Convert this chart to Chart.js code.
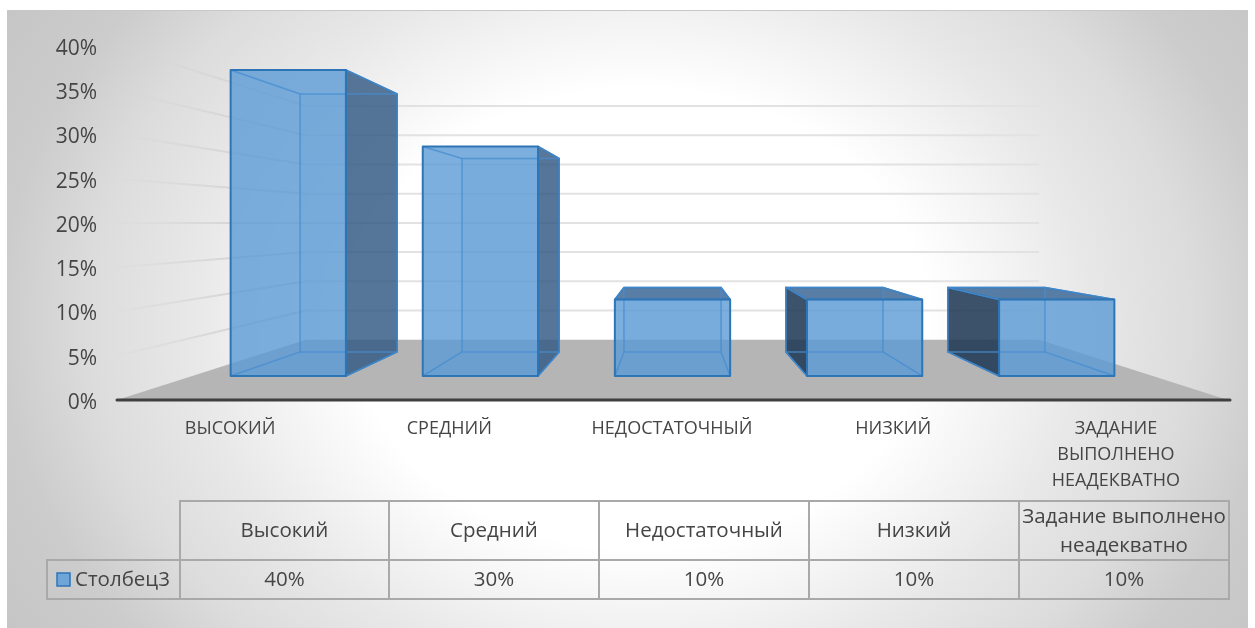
<!DOCTYPE html>
<html>
<head>
<meta charset="utf-8">
<style>
  html, body { margin: 0; padding: 0; background: #fff; }
  #wrap { width: 1255px; height: 628px; }
</style>
<script src="https://cdn.jsdelivr.net/npm/chart.js@4"></script>
</head>
<body>
<div id="wrap"><canvas id="myChart" width="1255" height="628"></canvas></div>
<script>
const axisCategories = ['ВЫСОКИЙ', 'СРЕДНИЙ', 'НЕДОСТАТОЧНЫЙ', 'НИЗКИЙ', ['ЗАДАНИЕ', 'ВЫПОЛНЕНО', 'НЕАДЕКВАТНО']];
const tableCategories = ['Высокий', 'Средний', 'Недостаточный', 'Низкий', ['Задание выполнено', 'неадекватно']];
const seriesName = 'Столбец3';
const seriesValues = [40, 30, 10, 10, 10];

const font = '"Open Sans", sans-serif';
const textColor = '#454545';

// perspective of the 3d box: everything shrinks towards this point
const vanishX = 672.5, vanishY = 222.7;
const backScale = 0.66, barFront = 0.8646, barBack = 0.7287;

function project(x, y, s) {
    return [vanishX + (x - vanishX) * s, vanishY + (y - vanishY) * s];
}

function poly(ctx, pts, fill, stroke, lw) {
    ctx.beginPath();
    pts.forEach((p, i) => i ? ctx.lineTo(p[0], p[1]) : ctx.moveTo(p[0], p[1]));
    ctx.closePath();
    if (fill) { ctx.fillStyle = fill; ctx.fill(); }
    if (stroke) { ctx.strokeStyle = stroke; ctx.lineWidth = lw; ctx.lineJoin = 'round'; ctx.stroke(); }
}

function line(ctx, a, b, color, lw) {
    ctx.beginPath();
    ctx.moveTo(a[0], a[1]);
    ctx.lineTo(b[0], b[1]);
    ctx.strokeStyle = color;
    ctx.lineWidth = lw;
    ctx.stroke();
}

const backdrop = {
    id: 'backdrop',
    beforeDraw(chart) {
        const ctx = chart.ctx;
        const { left, right, bottom } = chart.chartArea;
        const y = chart.scales.y, x = chart.scales.x;
        ctx.save();
        ctx.fillStyle = '#fff';
        ctx.fillRect(0, 0, 1255, 628);
        // soft radial fill of the chart area
        ctx.save();
        ctx.beginPath();
        ctx.rect(7, 10, 1241, 618);
        ctx.clip();
        ctx.translate(640, 319);
        ctx.scale(1, 0.8);
        const g = ctx.createRadialGradient(0, 0, 0, 0, 0, 800);
        g.addColorStop(0, '#ffffff');
        g.addColorStop(0.36, '#ffffff');
        g.addColorStop(0.475, '#f2f2f2');
        g.addColorStop(0.56, '#e8e8e8');
        g.addColorStop(0.69, '#dcdcdc');
        g.addColorStop(0.8, '#cccccc');
        g.addColorStop(1, '#c2c2c2');
        ctx.fillStyle = g;
        ctx.fillRect(-900, -900, 1800, 1800);
        ctx.restore();
        line(ctx, [7, 10.5], [1248, 10.5], '#c8c8c8', 1);

        // floor
        poly(ctx, [project(left, bottom, 1), project(right, bottom, 1),
            project(right, bottom, backScale), project(left, bottom, backScale)], '#b5b5b5');

        // side wall and back wall grid lines
        y.ticks.forEach(t => {
            if (t.value === 0) return;
            const py = y.getPixelForValue(t.value);
            const a = project(left, py, backScale), b = project(right, py, backScale);
            const fade = ctx.createLinearGradient(left, 0, a[0], 0);
            fade.addColorStop(0, 'rgba(214,214,214,0.15)');
            fade.addColorStop(0.6, 'rgba(214,214,214,1)');
            line(ctx, [left, py], a, fade, 2);
            line(ctx, a, b, '#e2e2e2', 2);
        });

        // axis line
        ctx.lineCap = 'round';
        line(ctx, [left, bottom], [right + 2, bottom], '#3f3f3f', 3);
        ctx.restore();

        // the original labels do not sit exactly on the category centres
        const shifts = [2, -1, -0.5, -1.5, -1];
        x.getLabelItems().forEach((item, i) => { item.options.translation[0] += shifts[i]; });
        y.getLabelItems().forEach(item => { item.options.translation[1] += 3; });
    }
};

const boxes = {
    id: 'boxes',
    afterDatasetsDraw(chart) {
        const ctx = chart.ctx;
        const base = chart.scales.y.getPixelForValue(0);
        ctx.save();
        chart.getDatasetMeta(0).data.forEach(bar => {
            const { x, y, width } = bar.getProps(['x', 'y', 'width'], true);
            const l = x - width / 2, r = x + width / 2;
            const fTL = project(l, y, barFront), fTR = project(r, y, barFront);
            const fBL = project(l, base, barFront), fBR = project(r, base, barFront);
            const bTL = project(l, y, barBack), bTR = project(r, y, barBack);
            const bBL = project(l, base, barBack), bBR = project(r, base, barBack);
            const inner = 'rgba(91,155,213,0.14)';
            const edge = '#2e75b6', edgeSoft = 'rgba(70,140,208,0.75)';

            // back, floor
            poly(ctx, [bTL, bTR, bBR, bBL], inner);
            poly(ctx, [fBL, fBR, bBR, bBL], inner);
            // outer side faces only show when the box is off centre
            if (bTR[0] > fTR[0]) poly(ctx, [fTR, bTR, bBR, fBR], 'rgba(52,90,130,0.82)', edge, 1.5);
            if (bTL[0] < fTL[0]) poly(ctx, [fTL, bTL, bBL, fBL], 'rgba(28,52,80,0.84)', edge, 1.5);
            // top face only shows when it lies above the eye line
            if (bTL[1] < fTL[1]) poly(ctx, [fTL, fTR, bTR, bTL], 'rgba(60,104,150,0.84)', edge, 1.5);
            // front
            poly(ctx, [fTL, fTR, fBR, fBL], 'rgba(91,155,213,0.8)');
            // lines of the far side seen through the front
            poly(ctx, [bTL, bTR, bBR, bBL], null, edgeSoft, 1.5);
            line(ctx, fBL, bBL, edgeSoft, 1.5);
            line(ctx, fBR, bBR, edgeSoft, 1.5);
            line(ctx, fTL, bTL, edgeSoft, 1.5);
            line(ctx, fTR, bTR, edgeSoft, 1.5);
            poly(ctx, [fTL, fTR, fBR, fBL], null, edge, 2);
        });
        ctx.restore();
    }
};

const dataTable = {
    id: 'dataTable',
    afterDraw(chart) {
        const ctx = chart.ctx;
        const colX = [180, 389, 599, 809, 1019, 1229];
        const rowTop = 501, rowMid = 560, rowBottom = 599, legendLeft = 47;
        ctx.save();
        ctx.lineCap = 'square';
        const c = '#a9a9a9';
        line(ctx, [colX[0], rowTop], [colX[5], rowTop], c, 2);
        line(ctx, [legendLeft, rowMid], [colX[5], rowMid], c, 2);
        line(ctx, [legendLeft, rowBottom], [colX[5], rowBottom], c, 2);
        line(ctx, [legendLeft, rowMid], [legendLeft, rowBottom], c, 2);
        colX.forEach(x => line(ctx, [x, rowTop], [x, rowBottom], c, 2));

        ctx.font = '20.5px ' + font;
        ctx.fillStyle = textColor;
        ctx.textAlign = 'center';
        ctx.textBaseline = 'middle';
        tableCategories.forEach((cat, i) => {
            const cx = (colX[i] + colX[i + 1]) / 2;
            if (Array.isArray(cat)) {
                ctx.fillText(cat[0], cx, 517);
                ctx.fillText(cat[1], cx, 546);
            } else {
                ctx.fillText(cat, cx, 531);
            }
            ctx.fillText(seriesValues[i] + '%', cx, 580);
        });
        ctx.textAlign = 'left';
        ctx.fillText(seriesName, 75, 580);
        ctx.fillStyle = '#6fa5d8';
        ctx.strokeStyle = '#2e75b6';
        ctx.lineWidth = 1.5;
        ctx.fillRect(57, 573, 13, 13);
        ctx.strokeRect(57, 573, 13, 13);
        ctx.restore();
    }
};

const myChart = new Chart(document.getElementById('myChart').getContext('2d'), {
    type: 'bar',
    data: {
        labels: axisCategories,
        datasets: [{
            label: seriesName,
            data: seriesValues,
            backgroundColor: 'transparent',
            borderWidth: 0,
            barPercentage: 0.6,
            categoryPercentage: 1
        }]
    },
    options: {
        responsive: false,
        animation: false,
        events: [],
        layout: { padding: { top: 46, right: 27, left: 0, bottom: 0 } },
        plugins: { legend: { display: false }, tooltip: { enabled: false } },
        scales: {
            x: {
                grid: { display: false, drawTicks: false },
                border: { display: false },
                ticks: { color: textColor, font: { family: font, size: 18, lineHeight: 1.45 }, padding: 16, maxRotation: 0, autoSkip: false },
                afterFit(s) { s.height = 228; }
            },
            y: {
                min: 0,
                max: 40,
                grid: { display: false, drawTicks: false },
                border: { display: false },
                ticks: { stepSize: 5, color: textColor, font: { family: font, size: 21 }, padding: 20, callback: v => v + '%' },
                afterFit(s) { s.width = 117; }
            }
        }
    },
    plugins: [backdrop, boxes, dataTable]
});
</script>
</body>
</html>
